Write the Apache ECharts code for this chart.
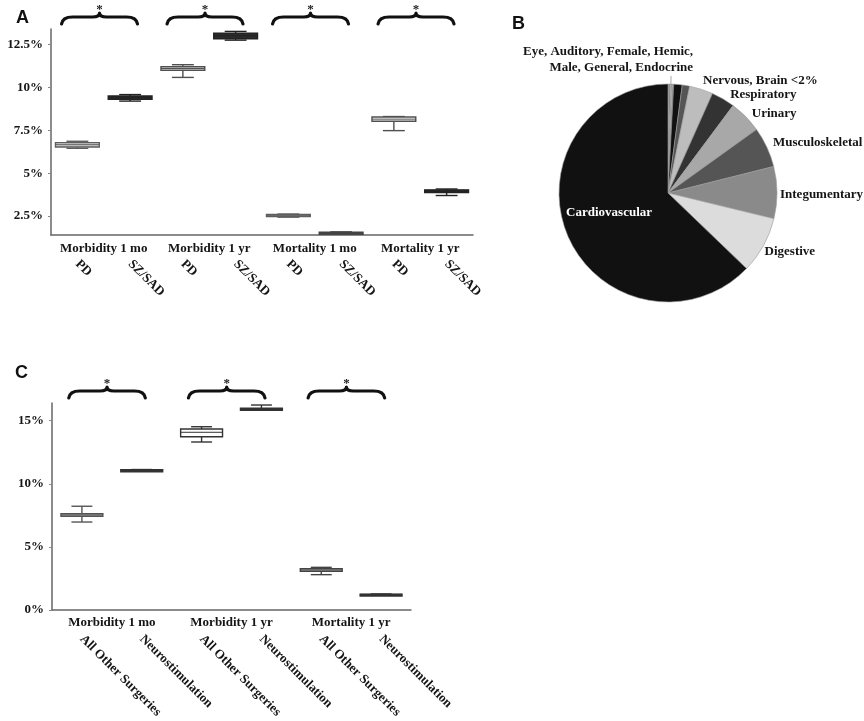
<!DOCTYPE html>
<html>
<head>
<meta charset="utf-8">
<script src="https://cdn.jsdelivr.net/npm/echarts/dist/echarts.min.js"></script>
<style>html,body{margin:0;padding:0;background:#fff;}#main{width:864px;height:721px;}</style>
</head>
<body>
<div id="main"></div>
<script>
// ---------- Panel A data ----------
const catsA = ['PD', 'SZ/SAD', 'PD', 'SZ/SAD', 'PD', 'SZ/SAD', 'PD', 'SZ/SAD'];
const groupsA = ['Morbidity 1 mo', 'Morbidity 1 yr', 'Mortality 1 mo', 'Mortality 1 yr'];
const lowA  = [6.45, 9.20, 10.58, 12.75, 2.44, 1.44, 7.48, 3.70];
const q1A   = [6.53, 9.30, 11.00, 12.83, 2.47, 1.46, 8.03, 3.88];
const medA  = [6.66, 9.40, 11.10, 13.00, 2.53, 1.50, 8.15, 3.95];
const q3A   = [6.78, 9.50, 11.20, 13.16, 2.60, 1.56, 8.27, 4.03];
const highA = [6.86, 9.58, 11.32, 13.26, 2.62, 1.58, 8.30, 4.08];
const yTicksA = [2.5, 5, 7.5, 10, 12.5];
const bracePairsA = [[0, 1], [2, 3], [4, 5], [6, 7]];

// ---------- Panel C data ----------
const catsC = ['All Other Surgeries', 'Neurostimulation', 'All Other Surgeries', 'Neurostimulation', 'All Other Surgeries', 'Neurostimulation'];
const groupsC = ['Morbidity 1 mo', 'Morbidity 1 yr', 'Mortality 1 yr'];
const lowC  = [6.97, 11.05, 13.31, 15.90, 2.80, 1.21];
const q1C   = [7.42, 11.07, 13.73, 15.93, 3.07, 1.23];
const medC  = [7.52, 11.09, 14.08, 15.96, 3.17, 1.24];
const q3C   = [7.63, 11.11, 14.34, 15.99, 3.27, 1.26];
const highC = [8.22, 11.13, 14.52, 16.24, 3.38, 1.27];
const yTicksC = [0, 5, 10, 15];
const bracePairsC = [[0, 1], [2, 3], [4, 5]];

// ---------- Panel B data ----------
const pieNames = ['Eye', 'Auditory', 'Female', 'Hemic', 'Male', 'General', 'Endocrine',
  'Nervous', 'Brain', 'Other', 'Respiratory', 'Urinary', 'Musculoskeletal', 'Integumentary', 'Digestive', 'Cardiovascular'];
const pieValues = [0.12, 0.12, 0.12, 0.12, 0.12, 0.12, 0.12,
  1.25, 1.1, 3.5, 3.5, 4.9, 6.0, 7.7, 8.4, 62.81];
const pieLabelText = {
  'Hemic': 'Eye, Auditory, Female, Hemic,\nMale, General, Endocrine',
  'Brain': 'Nervous, Brain <2%',
  'Respiratory': 'Respiratory', 'Urinary': 'Urinary', 'Musculoskeletal': 'Musculoskeletal',
  'Integumentary': 'Integumentary', 'Digestive': 'Digestive', 'Cardiovascular': 'Cardiovascular'
};

// ---------- styles (kept apart from data) ----------
const fillA   = ['#d2d2d2', '#2b2b2b', '#f4f4f4', '#2b2b2b', '#c4c4c4', '#4a4a4a', '#fbfbfb', '#2b2b2b'];
const strokeA = ['#5e5e5e', '#222', '#505050', '#222', '#5e5e5e', '#444', '#505050', '#222'];
const fillC   = ['#b8b8b8', '#333', '#fdfdfd', '#333', '#e2e2e2', '#333'];
const strokeC = ['#555', '#333', '#333', '#333', '#444', '#333'];
const pieColors = ['#666', '#bbb', '#333', '#e5e5e5', '#888', '#f2f2f2', '#444',
  '#111', '#555', '#bdbdbd', '#333', '#a8a8a8', '#555', '#8a8a8a', '#dcdcdc', '#111'];
const labelShift = {
  3: { dx: 17, dy: -16, align: 'right' },
  8: { dx: 12, dy: -5 },
  10: { dx: 2, dy: -4 },
  11: { dx: 1, dy: -3 },
  12: { dx: 1, dy: -5 },
  13: { dx: -2, dy: 2 },
  14: { dx: -4, dy: 6 },
  15: { dx: -6, dy: -3 }
};

const SERIF = '"Liberation Serif", "Times New Roman", serif';
const txt = { fontFamily: SERIF, fontWeight: 'bold', fontSize: 13, color: '#151515' };

function boxRenderer(fills, strokes, frac) {
  return function (params, api) {
    const i = params.dataIndex;
    const x = api.value(0);
    const lo = api.coord([x, api.value(1)]);
    const q1 = api.coord([x, api.value(2)]);
    const md = api.coord([x, api.value(3)]);
    const q3 = api.coord([x, api.value(4)]);
    const hi = api.coord([x, api.value(5)]);
    const band = api.size([1, 0])[0];
    const bw = band * frac, cw = bw * 0.5, cx = lo[0];
    const st = { stroke: strokes[i], lineWidth: 1.4 };
    const h = Math.max(q1[1] - q3[1], 2);
    return {
      type: 'group',
      children: [
        { type: 'line', shape: { x1: cx, y1: hi[1], x2: cx, y2: lo[1] }, style: st },
        { type: 'line', shape: { x1: cx - cw / 2, y1: hi[1], x2: cx + cw / 2, y2: hi[1] }, style: st },
        { type: 'line', shape: { x1: cx - cw / 2, y1: lo[1], x2: cx + cw / 2, y2: lo[1] }, style: st },
        { type: 'rect', shape: { x: cx - bw / 2, y: q3[1], width: bw, height: h }, style: { fill: fills[i], stroke: strokes[i], lineWidth: 1.4 } },
        { type: 'line', shape: { x1: cx - bw / 2, y1: md[1], x2: cx + bw / 2, y2: md[1] }, style: { stroke: strokes[i], lineWidth: 1 } }
      ]
    };
  };
}

function braceRenderer(sl, sr) {
  return function (params, api) {
    const top = params.coordSys.y;
    const band = api.size([1, 0])[0];
    const xa = api.coord([api.value(0), 0])[0];
    const xb = api.coord([api.value(1), 0])[0];
    const xL = xa - band * sl, xR = xb + band * sr;
    const xm = (xL + xR) / 2;
    const yE = top - 5, yA = top - 12, yT = top - 16;
    const p = 'M' + xL + ',' + yE + ' Q' + (xL + 1) + ',' + yA + ' ' + (xL + 11) + ',' + yA +
      ' L' + (xm - 7) + ',' + yA + ' Q' + xm + ',' + yA + ' ' + xm + ',' + yT +
      ' Q' + xm + ',' + yA + ' ' + (xm + 7) + ',' + yA +
      ' L' + (xR - 11) + ',' + yA + ' Q' + (xR - 1) + ',' + yA + ' ' + xR + ',' + yE;
    return {
      type: 'group',
      children: [
        { type: 'path', shape: { pathData: p }, style: { fill: 'none', stroke: '#111', lineWidth: 3.2, lineCap: 'round', lineJoin: 'round' } },
        { type: 'text', style: { text: '*', x: xm, y: top - 19, align: 'center', verticalAlign: 'middle', fill: '#222', font: 'bold 13px ' + SERIF } }
      ]
    };
  };
}

const boxDataA = catsA.map((c, i) => [i, lowA[i], q1A[i], medA[i], q3A[i], highA[i]]);
const boxDataC = catsC.map((c, i) => [i, lowC[i], q1C[i], medC[i], q3C[i], highC[i]]);

const axisLineStyle = { color: '#666', width: 1.5 };
const letterStyle = { fontFamily: '"Liberation Sans", Arial, sans-serif', fontWeight: 'bold', fontSize: 18, color: '#111' };

const option = {
  animation: false,
  backgroundColor: '#fff',
  title: [
    { text: 'A', left: 11, top: 4, textStyle: letterStyle },
    { text: 'B', left: 507, top: 10, textStyle: letterStyle },
    { text: 'C', left: 10, top: 359, textStyle: letterStyle }
  ],
  grid: [
    { left: 51, top: 29, width: 422, height: 206 },
    { left: 52, top: 403, width: 359, height: 207 }
  ],
  xAxis: [
    { gridIndex: 0, type: 'category', data: catsA, axisLine: { lineStyle: axisLineStyle },
      axisTick: { alignWithLabel: true, length: 5, lineStyle: { color: '#666' } },
      axisLabel: Object.assign({ rotate: -45, margin: 27, interval: 0 }, txt) },
    { gridIndex: 0, type: 'category', data: groupsA, position: 'bottom', axisLine: { show: false }, axisTick: { show: false },
      axisLabel: Object.assign({ margin: 7, interval: 0 }, txt) },
    { gridIndex: 1, type: 'category', data: catsC, axisLine: { lineStyle: axisLineStyle },
      axisTick: { alignWithLabel: true, length: 5, lineStyle: { color: '#666' } },
      axisLabel: Object.assign({ rotate: -45, margin: 27, interval: 0 }, txt) },
    { gridIndex: 1, type: 'category', data: groupsC, position: 'bottom', axisLine: { show: false }, axisTick: { show: false },
      axisLabel: Object.assign({ margin: 6, interval: 0 }, txt) }
  ],
  yAxis: [
    { gridIndex: 0, type: 'value', min: 1.4, max: 13.4, splitLine: { show: false },
      axisLine: { show: true, lineStyle: axisLineStyle },
      axisTick: { show: true, length: 3, customValues: yTicksA, lineStyle: { color: '#888' } },
      axisLabel: Object.assign({ margin: 8, customValues: yTicksA, formatter: v => v + '%' }, txt) },
    { gridIndex: 1, type: 'value', min: 0, max: 16.4, splitLine: { show: false },
      axisLine: { show: true, lineStyle: axisLineStyle },
      axisTick: { show: true, length: 3, customValues: yTicksC, lineStyle: { color: '#888' } },
      axisLabel: Object.assign({ margin: 8, customValues: yTicksC, formatter: v => v + '%' }, txt) }
  ],
  series: [
    { type: 'custom', xAxisIndex: 0, yAxisIndex: 0, data: boxDataA, encode: { x: 0, y: [1, 2, 3, 4, 5] },
      renderItem: boxRenderer(fillA, strokeA, 0.83) },
    { type: 'custom', xAxisIndex: 0, yAxisIndex: 0, data: bracePairsA, clip: false,
      renderItem: braceRenderer(0.3, 0.14) },
    { type: 'custom', xAxisIndex: 2, yAxisIndex: 1, data: boxDataC, encode: { x: 0, y: [1, 2, 3, 4, 5] },
      renderItem: boxRenderer(fillC, strokeC, 0.70) },
    { type: 'custom', xAxisIndex: 2, yAxisIndex: 1, data: bracePairsC, clip: false,
      renderItem: braceRenderer(0.22, 0.06) },
    {
      type: 'pie', center: [668, 193], radius: 109, startAngle: 90, clockwise: true,
      avoidLabelOverlap: false, minShowLabelAngle: 0,
      itemStyle: { borderColor: '#9a9a9a', borderWidth: 0.6 },
      label: Object.assign({ show: true, position: 'outside', distanceToLabelLine: 5,
        formatter: p => pieLabelText[p.name] || '', lineHeight: 16 }, txt),
      labelLine: { show: false, length: 0, length2: 0 },
      labelLayout: function (params) { return labelShift[params.dataIndex] || {}; },
      data: pieNames.map((n, i) => {
        const item = { name: n, value: pieValues[i], itemStyle: { color: pieColors[i] } };
        if (!pieLabelText[n]) item.label = { show: false };
        if (n === 'Cardiovascular') item.label = { position: 'inside', color: '#fff' };
        if (n === 'Hemic') item.labelLine = { show: true, length: 8, length2: 0, lineStyle: { color: '#aaa', width: 1 } };
        return item;
      })
    }
  ]
};

const chart = echarts.init(document.getElementById('main'), null, { renderer: 'canvas' });
chart.setOption(option);
</script>
</body>
</html>
